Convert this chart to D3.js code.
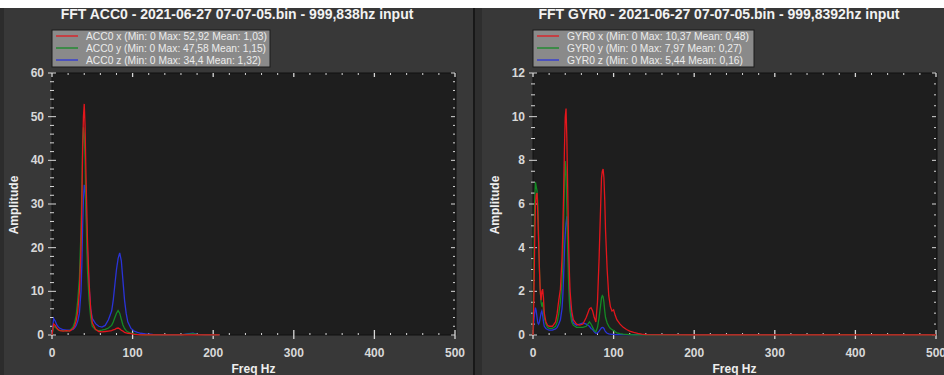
<!DOCTYPE html>
<html>
<head>
<meta charset="utf-8">
<script src="https://cdn.jsdelivr.net/npm/d3@7"></script>
<style>
  html, body { margin: 0; padding: 0; background: #fff; }
  svg { display: block; font-family: "Liberation Sans", Arial, sans-serif; }
</style>
</head>
<body>
<svg id="chart" width="944" height="375"></svg>
<script>
// ACC0 spectrum (left)
const accFreq = [0,2,4,6,8,10,14,18,22,26,28,30,32,34,36,37,38,39,40,41,42,43,44,46,48,50,54,58,62,66,70,74,76,78,80,82,84,86,88,90,92,94,98,102,106,110,116,125,140,160,170,175,180,190,208];
const accX = [0,2.5,2.2,1.6,1.2,1.0,0.9,1.0,0.9,1.4,2.0,3.2,5.5,10,20,30,42,50,52.92,48,38,30,22,12,6,2.8,1.3,0.8,0.7,0.8,0.9,1.0,1.2,1.3,1.5,1.6,1.4,1.1,0.9,0.6,0.5,0.4,0.3,0.15,0.1,0.05,0.03,0.02,0.02,0.02,0.03,0.05,0.02,0.02,0.02];
const accY = [0,2.0,1.8,1.4,1.1,1.0,1.0,0.9,1.0,1.8,2.8,4.5,8,13,24,33,44,47.58,46,40,30,22,15,8,4,2.0,1.2,1.0,1.1,1.3,1.6,2.2,3.0,4.0,5.0,5.6,5.0,3.6,2.3,1.5,1.0,0.7,0.4,0.25,0.15,0.1,0.05,0.03,0.03,0.03,0.2,0.3,0.1,0.03,0.02];
const accZ = [0,3.8,3.2,2.3,1.8,1.5,1.2,1.1,1.1,1.3,1.6,2.2,3.2,5,10,16,25,31,34.4,33.5,30,25,19,11,6,3.8,2.6,2.0,1.8,2.2,3.5,5.5,8,11.5,15,17.5,18.8,17,12.5,8,5,3,1.5,0.9,0.6,0.4,0.25,0.12,0.05,0.03,0.3,0.4,0.15,0.05,0.03];

// GYR0 spectrum (right)
const gyrFreq = [0,1,2,3,4,5,6,7,8,9,10,11,12,13,14,16,18,20,24,28,30,32,34,36,37,38,39,40,41,42,43,44,45,46,48,50,54,58,62,66,68,70,72,74,76,78,80,82,84,85,86,87,88,89,90,92,94,96,98,100,102,104,108,112,116,120,125,130,135,140,200,300,400,500];
const gyrX = [0,1.5,4,6,6.4,6.5,5.5,4.2,3.0,2.0,1.6,2.0,2.1,1.7,1.0,0.6,0.45,0.4,0.4,0.6,1.0,1.6,2.1,3.5,4.8,6.5,8.5,10.0,10.37,9.0,6.8,4.5,3.0,2.0,1.1,0.7,0.5,0.45,0.5,0.8,1.0,1.2,1.25,1.1,0.8,0.6,1.5,3.5,6.0,7.2,7.5,7.6,7.2,6.2,4.8,3.0,1.8,1.3,1.1,1.15,0.9,0.7,0.5,0.35,0.25,0.18,0.12,0.07,0.04,0.02,0.01,0.01,0.01,0.01];
const gyrY = [0,3.0,6.0,7.0,6.8,6.6,6.0,4.5,3.0,2.0,1.5,1.3,1.5,1.2,0.8,0.5,0.35,0.3,0.3,0.4,0.6,1.0,1.5,2.5,3.5,5.0,6.8,7.97,7.5,5.8,4.0,2.6,1.6,1.1,0.6,0.45,0.35,0.35,0.35,0.4,0.5,0.6,0.5,0.35,0.2,0.15,0.35,0.8,1.4,1.7,1.8,1.75,1.5,1.1,0.8,0.55,0.4,0.3,0.25,0.2,0.15,0.1,0.06,0.04,0.03,0.02,0.01,0.01,0.01,0.01,0.01,0.01,0.02,0.01];
const gyrZ = [0,0.6,1.0,1.25,1.1,0.8,0.55,0.5,0.6,0.8,1.0,1.1,0.9,0.6,0.4,0.3,0.25,0.22,0.22,0.28,0.35,0.5,0.7,1.2,1.8,2.7,3.8,4.6,5.1,5.44,4.9,3.6,2.3,1.4,0.8,0.55,0.45,0.5,0.55,0.5,0.45,0.4,0.3,0.25,0.15,0.08,0.1,0.18,0.28,0.33,0.35,0.34,0.3,0.22,0.15,0.08,0.05,0.04,0.03,0.03,0.02,0.02,0.02,0.02,0.02,0.02,0.02,0.02,0.02,0.02,0.02,0.02,0.02,0.02];

const xTicks = [0, 100, 200, 300, 400, 500];
const accYTicks = [0, 10, 20, 30, 40, 50, 60];
const gyrYTicks = [0, 2, 4, 6, 8, 10, 12];

const accLegend = [
  "ACC0 x (Min: 0 Max: 52,92 Mean: 1,03)",
  "ACC0 y (Min: 0 Max: 47,58 Mean: 1,15)",
  "ACC0 z (Min: 0 Max: 34,4 Mean: 1,32)"
];
const gyrLegend = [
  "GYR0 x (Min: 0 Max: 10,37 Mean: 0,48)",
  "GYR0 y (Min: 0 Max: 7,97 Mean: 0,27)",
  "GYR0 z (Min: 0 Max: 5,44 Mean: 0,16)"
];

const colors = ["#e3161c", "#148a24", "#2a33d8"];

const svg = d3.select("#chart");

// panel backgrounds
svg.append("rect").attr("x", 0).attr("y", 8).attr("width", 944).attr("height", 367).attr("fill", "#383838");
svg.append("rect").attr("x", 0).attr("y", 8).attr("width", 4).attr("height", 367).attr("fill", "#2c2c2c");
svg.append("rect").attr("x", 473).attr("y", 8).attr("width", 9).attr("height", 367).attr("fill", "#2e2e2e");
svg.append("rect").attr("x", 473).attr("y", 8).attr("width", 2).attr("height", 367).attr("fill", "#181818");

function drawChart(cfg) {
  const x = d3.scaleLinear().domain([0, 500]).range([cfg.left, cfg.left + 403]);
  const y = d3.scaleLinear().domain([0, cfg.yMax]).range([335, 73]);
  const g = svg.append("g");

  g.append("text")
    .attr("x", cfg.titleX).attr("y", 19)
    .attr("text-anchor", "middle")
    .attr("fill", "#f2f2f2")
    .style("font-size", "14px").style("font-weight", "bold")
    .text(cfg.title);

  // plot area
  g.append("rect")
    .attr("x", x(0)).attr("y", y(cfg.yMax))
    .attr("width", x(500) - x(0) + 1).attr("height", y(0) - y(cfg.yMax))
    .attr("fill", "#1e1e1e").attr("stroke", "#111").attr("stroke-width", 1);

  // ticks, mirrored on all four sides
  const tickCol = "#d8d8d8";
  const xMinor = d3.range(0, 501, 20);
  const yMinor = d3.range(0, cfg.yMax + 1e-9, cfg.yMinor);
  xMinor.forEach(v => {
    const major = v % 100 === 0;
    g.append("line").attr("x1", x(v)).attr("x2", x(v))
      .attr("y1", y(0) + (major ? 4 : 0)).attr("y2", y(0) - (major ? 5 : 2))
      .attr("stroke", tickCol).attr("stroke-width", major ? 1.3 : 1);
    g.append("line").attr("x1", x(v)).attr("x2", x(v))
      .attr("y1", y(cfg.yMax)).attr("y2", y(cfg.yMax) + (major ? 4 : 2))
      .attr("stroke", tickCol).attr("stroke-width", major ? 1.3 : 1);
  });
  yMinor.forEach(v => {
    const major = cfg.yTicks.some(t => Math.abs(t - v) < 1e-6);
    g.append("line").attr("x1", x(0) - (major ? 4 : 2)).attr("x2", x(0) + (major ? 4 : 2))
      .attr("y1", y(v)).attr("y2", y(v))
      .attr("stroke", tickCol).attr("stroke-width", 1);
    g.append("line").attr("x1", x(500) - (major ? 4 : 2)).attr("x2", x(500))
      .attr("y1", y(v)).attr("y2", y(v))
      .attr("stroke", tickCol).attr("stroke-width", 1);
  });

  // tick labels
  g.selectAll(".xl").data(xTicks).join("text")
    .attr("x", d => x(d)).attr("y", 357)
    .attr("text-anchor", "middle")
    .attr("fill", tickCol).style("font-size", "12px").style("font-weight", "bold")
    .text(d => d);
  g.selectAll(".yl").data(cfg.yTicks).join("text")
    .attr("x", x(0) - 8).attr("y", d => y(d) + 4)
    .attr("text-anchor", "end")
    .attr("fill", tickCol).style("font-size", "12px").style("font-weight", "bold")
    .text(d => d);

  // axis titles
  g.append("text")
    .attr("x", (x(0) + x(500)) / 2).attr("y", 373)
    .attr("text-anchor", "middle")
    .attr("fill", "#eee").style("font-size", "12px").style("font-weight", "bold")
    .text("Freq Hz");
  g.append("text")
    .attr("transform", `translate(${cfg.left - 34},205) rotate(-90)`)
    .attr("text-anchor", "middle")
    .attr("fill", "#eee").style("font-size", "12px").style("font-weight", "bold")
    .text("Amplitude");

  // curves, z first so x ends on top
  const line = d3.line().x(d => x(d[0])).y(d => y(d[1]));
  [2, 1, 0].forEach(i => {
    const pts = cfg.freq.map((f, k) => [f, cfg.series[i][k]]);
    g.append("path").datum(pts)
      .attr("d", line)
      .attr("fill", "none")
      .attr("stroke", colors[i])
      .attr("stroke-width", 1.3);
  });

  // legend
  const lg = g.append("g");
  lg.append("rect")
    .attr("x", x(0)).attr("y", 30)
    .attr("width", cfg.legendW).attr("height", 37)
    .attr("fill", "#8a8a8a").attr("stroke", "#1a1a1a").attr("stroke-width", 1);
  cfg.legend.forEach((t, i) => {
    const ly = 36 + i * 12;
    lg.append("line")
      .attr("x1", x(0) + 4).attr("x2", x(0) + 26)
      .attr("y1", ly).attr("y2", ly)
      .attr("stroke", colors[i]).attr("stroke-width", 1.3);
    lg.append("text")
      .attr("x", x(0) + 34).attr("y", ly + 4)
      .attr("fill", "#ececec").style("font-size", "11.5px")
      .attr("textLength", cfg.textW[i]).attr("lengthAdjust", "spacingAndGlyphs")
      .text(t);
  });
}

drawChart({
  left: 52, titleX: 237, yMax: 60, yMinor: 2, yTicks: accYTicks,
  title: "FFT ACC0 - 2021-06-27 07-07-05.bin - 999,838hz input",
  freq: accFreq, series: [accX, accY, accZ], legend: accLegend, legendW: 218,
  textW: [181, 180, 175]
});
drawChart({
  left: 533, titleX: 719, yMax: 12, yMinor: 0.5, yTicks: gyrYTicks,
  title: "FFT GYR0 - 2021-06-27 07-07-05.bin - 999,8392hz input",
  freq: gyrFreq, series: [gyrX, gyrY, gyrZ], legend: gyrLegend, legendW: 221,
  textW: [182, 175, 176]
});
</script>
</body>
</html>
